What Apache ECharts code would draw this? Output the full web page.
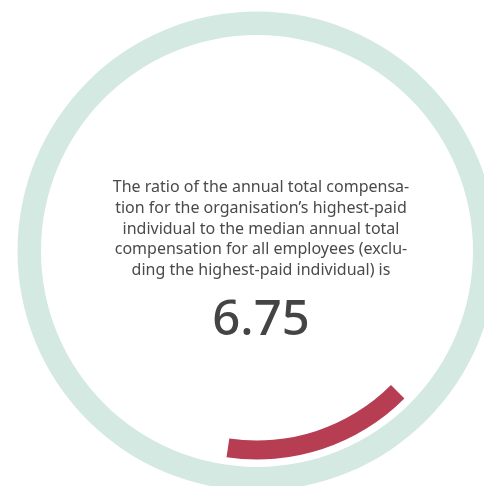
<!DOCTYPE html>
<html>
<head>
<meta charset="utf-8">
<script src="https://cdn.jsdelivr.net/npm/echarts@6/dist/echarts.min.js"></script>
<style>
  html, body { margin: 0; padding: 0; background: #fff; }
  #chart { width: 484px; height: 486px; }
</style>
</head>
<body>
<div id="chart"></div>
<script>
// ratio shown in the middle and the arc that goes with it
const ratioValue = 6.75
const arcMax = 45.5          // full circle for the red arc
const arcValues = [ratioValue, arcMax - ratioValue]
const ringValues = [1]
const captionLines = [
  'The ratio of the annual total compensa-',
  'tion for the organisation\u2019s highest-paid',
  'individual to the median annual total',
  'compensation for all employees (exclu-',
  'ding the highest-paid individual) is'
]

const chart = echarts.init(document.getElementById('chart'))

const option = {
  animation: false,
  series: [
    // light outer ring
    {
      type: 'pie',
      silent: true,
      center: [257, 251],
      radius: [216, 239.5],
      label: { show: false },
      labelLine: { show: false },
      itemStyle: { color: '#d3e9e1' },
      data: ringValues.map(v => ({ value: v }))
    },
    // red progress arc
    {
      type: 'pie',
      silent: true,
      center: [257, 251],
      radius: [189.5, 208.5],
      startAngle: -45,
      clockwise: true,
      label: { show: false },
      labelLine: { show: false },
      data: arcValues.map((v, i) => ({
        value: v,
        itemStyle: { color: i === 0 ? '#b73d52' : 'transparent' }
      }))
    }
  ],
  graphic: [
    {
      type: 'text',
      style: {
        text: captionLines.join('\n'),
        x: 261,
        y: 177,
        fill: '#4a4a4a',
        font: '16px "Noto Sans"',
        lineHeight: 20.8,
        align: 'center',
        verticalAlign: 'top'
      }
    },
    {
      type: 'text',
      style: {
        text: String(ratioValue),
        x: 261,
        y: 321,
        fill: '#444444',
        font: '500 49px "Noto Sans"',
        align: 'center',
        verticalAlign: 'middle'
      }
    }
  ]
}

chart.setOption(option)
</script>
</body>
</html>
